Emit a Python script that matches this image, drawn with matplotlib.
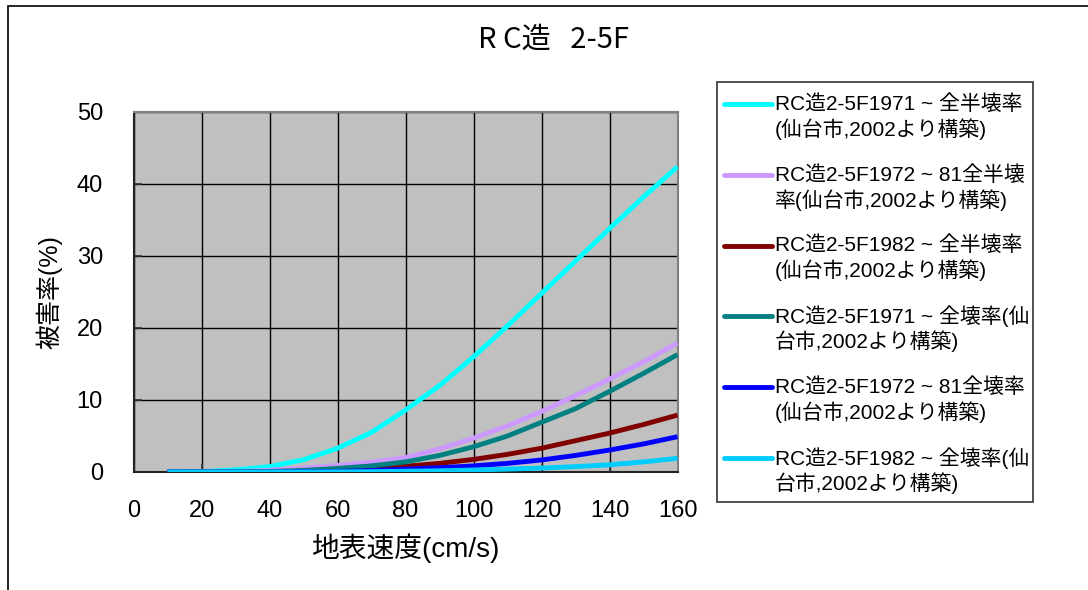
import matplotlib
matplotlib.use("Agg")
import matplotlib.pyplot as plt
from matplotlib.lines import Line2D
from matplotlib.patches import Rectangle

plt.rcParams['font.family'] = ['Liberation Sans', 'Noto Sans CJK JP']

# Ground velocity (cm/s)
velocity = [10, 20, 30, 40, 50, 60, 70, 80, 90, 100, 110, 120, 130, 140, 150, 160]

# Damage ratios (%) for RC 2-5 storey buildings
rate_1971_half = [0.0, 0.05, 0.3, 0.75, 1.7, 3.3, 5.5, 8.6, 12.0, 16.0, 20.3, 24.8, 29.3, 33.8, 38.2, 42.4]
rate_7281_half = [0.0, 0.0, 0.05, 0.25, 0.55, 0.9, 1.35, 2.0, 3.2, 4.7, 6.4, 8.4, 10.6, 12.9, 15.3, 17.9]
rate_1982_half = [0.0, 0.0, 0.0, 0.03, 0.1, 0.25, 0.5, 0.8, 1.2, 1.75, 2.45, 3.3, 4.35, 5.4, 6.6, 7.9]
rate_1971_full = [0.0, 0.0, 0.02, 0.08, 0.22, 0.5, 0.85, 1.4, 2.3, 3.5, 5.0, 6.9, 8.8, 11.2, 13.7, 16.3]
rate_7281_full = [0.0, 0.0, 0.0, 0.0, 0.03, 0.08, 0.2, 0.4, 0.6, 0.85, 1.2, 1.67, 2.3, 3.05, 3.9, 4.9]
rate_1982_full = [0.0, 0.0, 0.0, 0.0, 0.0, 0.02, 0.05, 0.1, 0.17, 0.28, 0.4, 0.55, 0.75, 1.0, 1.4, 1.9]

series = [rate_1971_half, rate_7281_half, rate_1982_half,
          rate_1971_full, rate_7281_full, rate_1982_full]
colors = ['#00FFFF', '#CC99FF', '#800000', '#008080', '#0000FF', '#00CCFF']
legend_lines = [
    ('RC造2-5F1971 ~ 全半壊率', '(仙台市,2002より構築)'),
    ('RC造2-5F1972 ~ 81全半壊', '率(仙台市,2002より構築)'),
    ('RC造2-5F1982 ~ 全半壊率', '(仙台市,2002より構築)'),
    ('RC造2-5F1971 ~ 全壊率(仙', '台市,2002より構築)'),
    ('RC造2-5F1972 ~ 81全壊率', '(仙台市,2002より構築)'),
    ('RC造2-5F1982 ~ 全壊率(仙', '台市,2002より構築)'),
]

W, H = 1088, 590
fig = plt.figure(figsize=(W / 100, H / 100), dpi=100)
fig.patch.set_facecolor('white')


def fx(px):
    return px / W


def fy(py):
    return 1 - py / H


# Chart frame (extends past the right and bottom edges)
fig.add_artist(Rectangle((fx(8), -0.2), 1.5, fy(6) + 0.2, transform=fig.transFigure,
                         fill=False, edgecolor='black', linewidth=1.2, clip_on=False))

ax = fig.add_axes([fx(133.5), fy(472), fx(677.5) - fx(133.5), fy(112) - fy(472)])
ax.set_facecolor('#C0C0C0')
for data, c in zip(series, colors):
    ax.plot(velocity, data, color=c, linewidth=3.5, solid_capstyle='butt', zorder=3)

ax.set_xlim(0, 160)
ax.set_ylim(0, 50)
ax.set_xticks(range(0, 161, 20))
ax.set_yticks(range(0, 51, 10))
ax.grid(True, color='black', linewidth=1.0, zorder=1)
ax.set_axisbelow(True)
ax.tick_params(axis='both', direction='in', length=6, width=1.2, color='#333333',
               labelsize=17)
ax.tick_params(axis='x', pad=20)
ax.tick_params(axis='y', pad=22)
for s in ['top', 'right']:
    ax.spines[s].set_color('#808080')
    ax.spines[s].set_linewidth(1.5)
for s in ['left', 'bottom']:
    ax.spines[s].set_color('#222222')
    ax.spines[s].set_linewidth(1.5)

ax.set_xlabel('地表速度(cm/s)', fontsize=20, labelpad=8)
ax.set_ylabel('被害率(%)', fontsize=18, labelpad=10)

fig.text(fx(554), fy(40), 'R C造   2-5F', ha='center', va='center', fontsize=21,
         family=['Noto Sans CJK JP'])

# Legend box
fig.add_artist(Rectangle((fx(717), fy(502)), fx(1033) - fx(717), fy(82) - fy(502),
                         transform=fig.transFigure, fill=True, facecolor='white',
                         edgecolor='#333333', linewidth=1.2))
y0, dy = 104, 70.8
for i, (c, (l1, l2)) in enumerate(zip(colors, legend_lines)):
    yy = y0 + i * dy
    fig.add_artist(Line2D([fx(724), fx(772)], [fy(yy), fy(yy)], transform=fig.transFigure,
                          color=c, linewidth=3.5, solid_capstyle='round'))
    fig.text(fx(775), fy(yy), l1, ha='left', va='center', fontsize=15)
    fig.text(fx(775), fy(yy + 25), l2, ha='left', va='center', fontsize=15)

fig.savefig('out.png', dpi=100)
